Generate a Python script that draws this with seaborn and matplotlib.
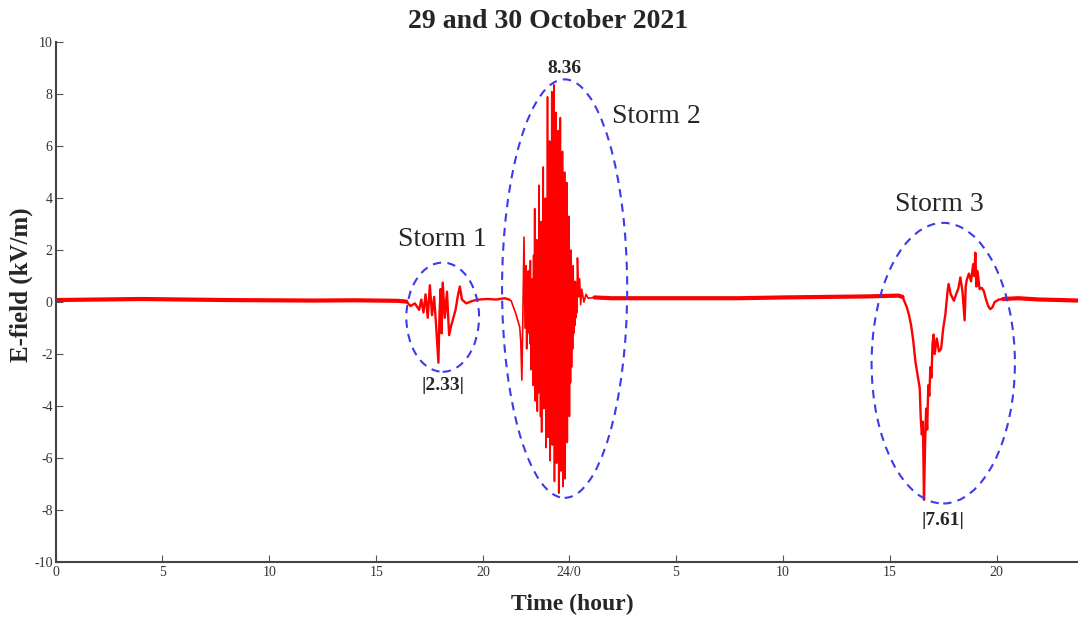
import matplotlib
matplotlib.use("Agg")
import matplotlib.pyplot as plt
import seaborn as sns
import pandas as pd
from matplotlib.patches import Ellipse

# ---------------- data (hours since 00:00 on 29 Oct; kV/m) ----------------
quiet1_t = [0, 2, 4, 6, 8, 10, 12, 14, 16, 16.4]
quiet1_v = [0.08, 0.1, 0.12, 0.1, 0.08, 0.07, 0.06, 0.07, 0.05, 0.02]

storm1_t = [16.4, 16.6, 16.8, 17.0, 17.1, 17.2, 17.3, 17.4, 17.5, 17.6, 17.7, 17.8,
            17.9, 17.95, 18.0, 18.05, 18.1, 18.2, 18.3, 18.4, 18.5, 18.6, 18.7, 18.8,
            18.9, 19.0, 19.2, 19.5, 19.8, 20.2, 20.6, 21.0, 21.2]
storm1_v = [0.02, -0.15, -0.05, -0.3, 0.1, -0.4, 0.3, -0.6, 0.65, -0.5, 0.2, -1.0,
            -2.33, -0.5, 0.5, -1.2, 0.75, -0.6, 0.4, -1.27, -0.9, -0.6, -0.3, 0.2,
            0.6, 0.1, -0.05, 0.05, 0.1, 0.12, 0.1, 0.15, 0.1]

storm2_t = [21.2, 21.3, 21.5, 21.7, 21.75, 21.8, 21.85, 21.9, 21.95,
            22.000, 22.025, 22.050, 22.075, 22.100, 22.125, 22.150, 22.175,
            22.200, 22.225, 22.250, 22.275, 22.300, 22.325, 22.350, 22.375,
            22.400, 22.425, 22.450, 22.475, 22.500, 22.525, 22.550, 22.575,
            22.600, 22.625, 22.650, 22.675, 22.700, 22.725, 22.750, 22.775,
            22.800, 22.825, 22.850, 22.875, 22.900, 22.925, 22.950, 22.975,
            23.000, 23.025, 23.050, 23.075, 23.100, 23.125, 23.150, 23.175,
            23.200, 23.225, 23.250, 23.275, 23.300, 23.325, 23.350, 23.375,
            23.400, 23.425, 23.450, 23.475, 23.500, 23.525, 23.550, 23.575,
            23.600, 23.625, 23.650, 23.675, 23.700, 23.725, 23.750, 23.775,
            23.800, 23.825, 23.850, 23.875, 23.900, 23.925, 23.950, 23.975,
            24.000, 24.025, 24.050, 24.075, 24.100, 24.125, 24.150, 24.175,
            24.200, 24.225, 24.250, 24.275, 24.300, 24.325, 24.350, 24.375,
            24.40, 24.45, 24.50, 24.55, 24.60, 24.70, 24.80, 24.90, 25.2]
storm2_v = [0.1, 0.05, -0.4, -0.96, -1.5, -3.0, -0.5, 2.5, -1.0,
            1.4, -1.8, 0.6, -1.2, 1.2, -0.8, 0.9, -1.6,
            1.6, -2.6, 0.4, -1.9, 0.9, -3.2, 1.8, -2.4,
            3.6, -3.8, 1.5, -2.9, 2.4, -4.2, 0.8, -3.5,
            4.5, -3.0, 2.2, -4.4, 3.1, -5.0, 1.9, -3.6,
            5.2, -4.1, 2.6, -3.3, 4.0, -5.6, 3.2, -4.8,
            7.9, -5.2, 3.5, -4.4, 6.2, -6.1, 4.8, -3.9,
            8.1, -5.5, 5.6, -4.7, 8.36, -6.9, 4.2, -5.8,
            7.3, -6.2, 5.1, -4.5, 6.6, -7.35, 3.9, -6.0,
            7.1, -6.5, 4.4, -5.2, 5.8, -7.1, 3.6, -5.5,
            5.0, -6.8, 2.9, -4.6, 4.6, -5.4, 2.5, -3.8,
            3.3, -4.4, 1.6, -3.1, 2.0, -2.5, 0.9, -1.8,
            1.4, -1.2, 0.6, -0.9, 0.8, -0.6, 0.3, -0.4,
            1.7, 0.2, 0.9, -0.1, 0.5, 0.0, 0.3, 0.15, 0.18]

quiet2_t = [25.2, 26, 28, 30, 32, 34, 36, 38, 39.4, 39.6]
quiet2_v = [0.18, 0.15, 0.15, 0.15, 0.15, 0.18, 0.2, 0.22, 0.25, 0.2]

storm3_t = [39.6, 39.8, 39.9, 40.0, 40.1, 40.2, 40.3, 40.4, 40.45, 40.5, 40.55, 40.6,
            40.65, 40.7, 40.75, 40.8, 40.85, 40.9, 40.95, 41.0, 41.05, 41.1, 41.2,
            41.3, 41.4, 41.5, 41.6, 41.7, 41.75, 41.85, 42.0, 42.1, 42.2, 42.3, 42.4,
            42.5, 42.55, 42.6, 42.7, 42.8, 42.9, 42.95, 43.0, 43.05, 43.1, 43.2, 43.3,
            43.4, 43.5, 43.6, 43.7, 43.8, 43.9, 44.1, 44.3]
storm3_v = [0.2, -0.2, -0.5, -0.9, -1.5, -2.3, -2.8, -3.3, -4.5, -5.1, -4.6, -7.61,
            -5.5, -4.1, -4.9, -3.2, -3.6, -2.5, -2.9, -1.6, -1.25, -2.0, -1.4,
            -1.9, -1.8, -1.0, -0.47, 0.4, 0.7, 0.3, 0.05, 0.3, 0.5, 0.95, 0.4,
            -0.7, 0.6, 0.85, 1.1, 0.8, 1.46, 1.0, 1.9, 0.6, 1.2, 0.5, 0.55,
            0.42, 0.1, -0.15, -0.27, -0.2, 0.0, 0.1, 0.12]

quiet3_t = [44.3, 45, 46, 47, 47.8]
quiet3_v = [0.12, 0.15, 0.1, 0.08, 0.06]

x_ticks = [0, 5, 10, 15, 20, 24, 29, 34, 39, 44]
x_ticklabels = ["0", "5", "10", "15", "20", "24/0", "5", "10", "15", "20"]
y_ticks = [-10, -8, -6, -4, -2, 0, 2, 4, 6, 8, 10]

# storm ellipses: (centre t, centre v, width h, height kV/m)
ell_storm1 = (18.1, -0.58, 3.4, 4.2)
ell_storm2 = (23.8, 0.52, 5.85, 16.1)
ell_storm3 = (41.5, -2.35, 6.7, 10.8)

# ---------------- plotting ----------------
sns.set_style("ticks")
plt.rcParams["font.family"] = ["Liberation Serif", "DejaVu Serif"]
plt.rcParams["axes.unicode_minus"] = False

fig = plt.figure(figsize=(10.78, 6.21), dpi=100)
ax = fig.add_axes([0.0515, 0.095, 0.9485, 0.837])

quiet = pd.concat([
    pd.DataFrame({"t": quiet1_t, "v": quiet1_v, "seg": "q1"}),
    pd.DataFrame({"t": quiet2_t, "v": quiet2_v, "seg": "q2"}),
    pd.DataFrame({"t": quiet3_t, "v": quiet3_v, "seg": "q3"}),
])
storms = [
    (pd.DataFrame({"t": storm1_t, "v": storm1_v}), 1.7),
    (pd.DataFrame({"t": storm2_t, "v": storm2_v}), 1.2),
    (pd.DataFrame({"t": storm3_t, "v": storm3_v}), 1.7),
]

for seg, d in quiet.groupby("seg"):
    sns.lineplot(data=d, x="t", y="v", ax=ax, color="#ff0000", lw=3.0,
                 estimator=None, sort=False)
for d, lw in storms:
    sns.lineplot(data=d, x="t", y="v", ax=ax, color="#ff0000", lw=lw,
                 estimator=None, sort=False)

for (cx, cy, w, h) in (ell_storm1, ell_storm2, ell_storm3):
    ax.add_patch(Ellipse((cx, cy), w, h, fill=False, edgecolor="#3b3bea",
                         lw=1.5, ls=(0, (4, 3)), zorder=5))

ax.text(18.1, 2.4, "Storm 1", fontsize=20, ha="center", va="center")
ax.text(28.1, 7.15, "Storm 2", fontsize=20, ha="center", va="center")
ax.text(41.3, 3.77, "Storm 3", fontsize=20, ha="center", va="center")
ax.text(18.1, -3.2, "|2.33|", fontsize=14, fontweight="bold", ha="center", va="center")
ax.text(23.8, 9.0, "8.36", fontsize=14, fontweight="bold", ha="center", va="center")
ax.text(41.5, -8.4, "|7.61|", fontsize=14, fontweight="bold", ha="center", va="center")

ax.set_xlim(0, 47.8)
ax.set_ylim(-10, 10)
ax.set_xticks(x_ticks)
ax.set_xticklabels(x_ticklabels)
ax.set_yticks(y_ticks)
ax.tick_params(direction="in", length=5, width=0.8, colors="#555555",
               labelsize=10, labelcolor="#333333")
ax.tick_params(axis="y", pad=2)
ax.tick_params(axis="x", pad=3)
sns.despine(ax=ax)
for s in ("left", "bottom"):
    ax.spines[s].set_color("#444444")
    ax.spines[s].set_linewidth(1.5)

ax.set_xlabel("")
ax.set_ylabel("")
fig.text(0.531, 0.026, "Time (hour)", fontsize=17, fontweight="bold",
         ha="center", va="center")
fig.text(0.020, 0.541, "E-field (kV/m)", fontsize=18, fontweight="bold",
         ha="center", va="center", rotation=90)
fig.text(0.508, 0.965, "29 and 30 October 2021", fontsize=20, fontweight="bold",
         ha="center", va="center")

fig.savefig("out.png", dpi=100)
